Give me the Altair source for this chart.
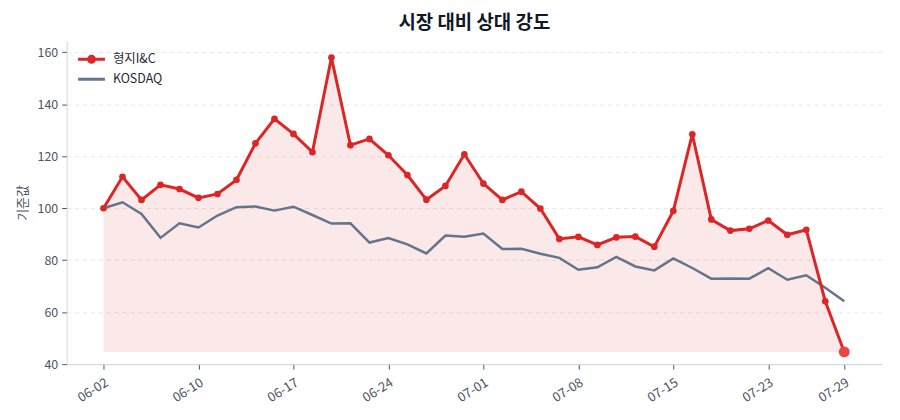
import altair as alt
import pandas as pd

stock_name = "형지I&C"
index_name = "KOSDAQ"

dates = [
    "06-02", "06-03", "06-04", "06-05", "06-09", "06-10", "06-11", "06-12", "06-13", "06-16",
    "06-17", "06-18", "06-19", "06-20", "06-23", "06-24", "06-25", "06-26", "06-27", "06-30",
    "07-01", "07-02", "07-03", "07-04", "07-07", "07-08", "07-09", "07-10", "07-11", "07-14",
    "07-15", "07-16", "07-17", "07-18", "07-21", "07-23", "07-24", "07-25", "07-28", "07-29",
]
stock = [
    100.0, 112.1, 103.2, 109.0, 107.4, 104.0, 105.5, 110.9, 125.0, 134.4,
    128.6, 121.6, 158.0, 124.3, 126.7, 120.4, 112.8, 103.3, 108.6, 120.8,
    109.5, 103.2, 106.4, 99.9, 88.2, 89.0, 85.9, 88.8, 89.1, 85.2,
    99.0, 128.5, 95.7, 91.4, 92.1, 95.3, 89.8, 91.7, 64.2, 44.7,
]
kosdaq = [
    100.0, 102.3, 97.8, 88.6, 94.2, 92.6, 97.2, 100.4, 100.7, 99.1,
    100.6, 97.4, 94.1, 94.2, 86.8, 88.5, 86.1, 82.6, 89.5, 89.0,
    90.3, 84.3, 84.4, 82.5, 80.9, 76.3, 77.3, 81.3, 77.6, 76.1,
    80.7, 77.0, 72.9, 73.0, 72.9, 76.9, 72.5, 74.2, 69.4, 64.2,
]
y_ticks = [40, 60, 80, 100, 120, 140, 160]
n = len(dates)
tick_idx = list(range(0, n, 5)) + [n - 1]

red, red_light, slate = "#dc2626", "#ef4444", "#64748b"
font = "Noto Sans CJK KR"

df = pd.DataFrame({
    "idx": list(range(n)) * 2,
    "series": [stock_name] * n + [index_name] * n,
    "value": stock + kosdaq,
})

# trading days are evenly spaced, so x is the day number labelled with its date
date_lookup = "[" + ",".join(f"'{d}'" for d in dates) + "][datum.value]"
x = alt.X(
    "idx:Q", title=None,
    scale=alt.Scale(domain=[-1.94, n - 1 + 1.99], nice=False, zero=False),
    axis=alt.Axis(values=tick_idx, labelExpr=date_lookup, labelAngle=-32, grid=False,
                  tickSize=5, domainColor="#d1d5db", tickColor="#4b5563",
                  labelColor="#4b5563", labelFontSize=13, labelPadding=7),
)
y = alt.Y(
    "value:Q", title="기준값",
    scale=alt.Scale(domain=[40, 164.4], nice=False, zero=False),
    axis=alt.Axis(values=y_ticks, grid=True, gridDash=[4, 4], gridColor="#e5e7eb",
                  domainColor="#d1d5db", tickColor="#4b5563", tickSize=5,
                  labelColor="#4b5563", labelFontSize=12.5, labelPadding=4,
                  titleColor="#4b5563", titleFontSize=13, titleFontWeight="normal",
                  titlePadding=8),
)

# two single-entry legends, stacked by hand in the top-left corner of the plot
legend_style = dict(title=None, orient="none", legendX=13.5, symbolSize=400,
                    symbolStrokeWidth=3, labelFontSize=12.5, labelColor="#1f2937",
                    labelOffset=10)
line_dot = "M-1.35,0L1.35,0M-0.3,0A0.3,0.3,0,1,0,0.3,0A0.3,0.3,0,1,0,-0.3,0"

red_colour = alt.Color(
    "series:N", scale=alt.Scale(domain=[stock_name], range=[red]),
    legend=alt.Legend(symbolType=line_dot, symbolFillColor=red, legendY=7, **legend_style),
)
slate_stroke = alt.Stroke(
    "series:N", scale=alt.Scale(domain=[index_name], range=[slate]),
    legend=alt.Legend(symbolType="M-1.35,0L1.35,0", legendY=27, **legend_style),
)

base = alt.Chart(df)
red_only = alt.datum.series == stock_name

area = base.transform_filter(red_only).mark_area(color=red, opacity=0.1).encode(
    x=x, y=y, y2=alt.datum(min(stock)),
)
blue_line = base.transform_filter(alt.datum.series == index_name).mark_line(
    strokeWidth=2.5).encode(x=x, y=y, stroke=slate_stroke)
red_line = base.transform_filter(red_only).mark_line(strokeWidth=3).encode(
    x=x, y=y, color=red_colour)
points = base.transform_filter(red_only).mark_circle(color=red, size=45, opacity=1).encode(
    x=x, y=y)
last = base.transform_filter(red_only & (alt.datum.idx == n - 1)).mark_circle(
    color=red_light, size=120, opacity=1).encode(x=x, y=y)

chart = (area + blue_line + red_line + points + last).resolve_scale(
    color="independent", stroke="independent",
).properties(
    width=820, height=325,
    padding={"left": 8, "top": 5, "right": 10, "bottom": 5},
    title=alt.Title("시장 대비 상대 강도", fontSize=19, fontWeight="bold",
                    color="#111827", offset=8),
).configure(font=font).configure_view(stroke=None)

chart.save("out.html", embed_options={"renderer": "svg", "actions": False})
